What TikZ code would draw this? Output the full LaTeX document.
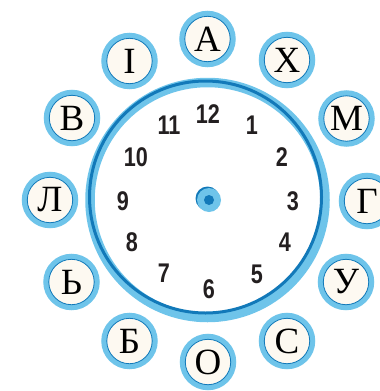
\documentclass[tikz,border=0pt]{standalone}
\usepackage{fontspec}
\setmainfont{Liberation Serif}
\newfontfamily\digitfont{Liberation Sans}
\definecolor{ringlight}{HTML}{6EC4EA}
\definecolor{ringdark}{HTML}{1279B9}
\definecolor{cream}{HTML}{FDF9F1}
\definecolor{digitcol}{HTML}{231F20}
\tikzset{
  letterbox/.style={circle, fill=cream, draw=ringlight, line width=5.5pt, minimum size=51pt, inner sep=0pt,
    font=\fontsize{37}{37}\selectfont},
  innerline/.style={draw=ringdark, line width=0.8pt},
  digitbox/.style={inner sep=0pt, text=digitcol, font=\digitfont\bfseries\fontsize{27}{27}\selectfont}
}
\newcommand{\dg}[1]{\scalebox{0.8}[1]{#1}}
\begin{document}
\begin{tikzpicture}[x=1pt,y=-1pt]
\useasboundingbox (0,0) rectangle (380,391);
\clip (0,0) rectangle (380,391);
\coordinate (c) at (207.5,200);
% clock face
\fill[white] (c) circle (116);
\draw[ringlight, line width=9.5pt] (c) circle (117.5);
\coordinate (cd) at (205.5,197);
\begin{scope}
\clip (c) circle (122);
\draw[ringdark, line width=3pt] (cd) circle (116);
\end{scope}
% letters
\foreach \p/\l/\n in {{(207.5,39)}/А/la, {(287,60)}/Х/lh, {(346.5,118.5)}/М/lm, {(367,201)}/Г/lg,
  {(346,282)}/У/lu, {(287,341)}/С/ls, {(208,362)}/О/lo, {(129.5,341)}/Б/lb, {(71.5,282)}/Ь/lz,
  {(50,200)}/Л/ll, {(72,118)}/В/lv, {(129.5,61)}/І/li}{
  \node[letterbox] (\n) at \p {\l};
  \draw[innerline] (\n.center) circle (22.7);
}
% digits
\foreach \p/\d/\n in {{(208,114)}/12/d12, {(252,125)}/1/d1, {(282,157)}/2/d2, {(293,201)}/3/d3,
  {(285,242)}/4/d4, {(257,274)}/5/d5, {(209,289)}/6/d6, {(164,273)}/7/d7, {(132,242)}/8/d8,
  {(123,201)}/9/d9, {(136,157)}/10/d10, {(169,125)}/11/d11}{
  \node[digitbox] (\n) at \p {\dg{\d}};
}
% centre
\coordinate (cc) at (209,200);
\fill[ringdark] (207.5,198.5) circle (12);
\fill[ringlight] (cc) circle (12);
\fill[ringdark] (cc) circle (5);
\end{tikzpicture}
\end{document}
